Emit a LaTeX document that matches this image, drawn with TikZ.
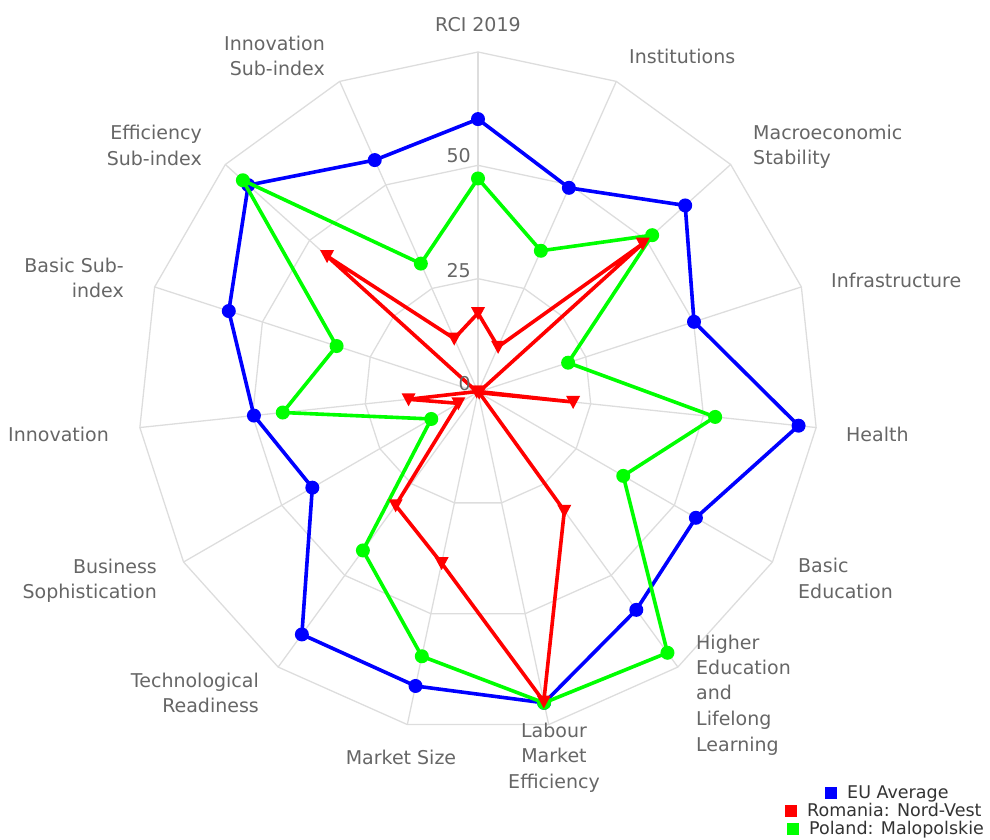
\documentclass[tikz,border=0pt]{standalone}
\usepackage{fontspec}
\setmainfont{DejaVu Sans}
\definecolor{gridc}{HTML}{DDDDDD}
\definecolor{labc}{HTML}{666666}
\definecolor{legc}{HTML}{333333}
\definecolor{sblue}{HTML}{0000FF}
\definecolor{sred}{HTML}{FF0000}
\definecolor{sgreen}{HTML}{00FF00}
\begin{document}
\begin{tikzpicture}[x=1pt,y=1pt,
  lab/.style={font=\fontsize{19}{25}\selectfont, text=labc, inner sep=0pt},
  leg/.style={font=\fontsize{17.5}{20}\selectfont, text=legc, inner sep=0pt},
  gridline/.style={draw=gridc, line width=1.3pt},
  series/.style={line width=3.6pt, line join=round, line cap=round},
  dotmark/.style={circle, inner sep=0pt, minimum size=14pt},
  sq/.style={inner sep=0pt, minimum size=12pt}]
\useasboundingbox (0,0) rectangle (990,839);
\begin{scope}[shift={(478,447)}]
  % grid rings
  \foreach \r in {113.333,226.667,340}{
    \draw[gridline] (90:\r) \foreach \i in {1,...,14}{ -- ({90-24*\i}:\r)} -- cycle;
  }
  % axes
  \foreach \i in {0,...,14}{ \draw[gridline] (0,0) -- ({90-24*\i}:340); }
  % data coordinates
  \foreach \v [count=\i from 0] in {60.2,49.3,61.5,50.1,71.1,55.5,59.4,70.1,66.3,66.1,42.2,49.7,57.8,68.2,56.0}
    {\coordinate (b\i) at ({90-24*\i}:{\v*4.5333});}
  \foreach \v [count=\i from 0] in {47.1,34.1,51.7,20.9,52.6,37.0,71.1,70.1,59.6,43.2,11.9,43.3,32.8,69.8,31.0}
    {\coordinate (g\i) at ({90-24*\i}:{\v*4.5333});}
  \foreach \v [count=\i from 0] in {17.4,10.9,48.9,0.3,21.1,0.3,32.4,69.8,38.6,30.9,5.0,15.4,0.3,44.8,12.9}
    {\coordinate (r\i) at ({90-24*\i}:{\v*4.5333});}
  % EU Average
  \draw[series, sblue] (b0) \foreach \i in {1,...,14}{ -- (b\i)} -- cycle;
  \foreach \i in {0,...,14}{ \node[dotmark, fill=sblue] (bm\i) at (b\i) {}; }
  % Poland
  \draw[series, sgreen] (g0) \foreach \i in {1,...,14}{ -- (g\i)} -- cycle;
  \foreach \i in {0,...,14}{ \node[dotmark, fill=sgreen] (gm\i) at (g\i) {}; }
  % Romania
  \draw[series, sred] (r0) \foreach \i in {1,...,14}{ -- (r\i)} -- cycle;
  \foreach \i in {0,...,14}{ \fill[sred] (r\i) ++(-7,6) -- ++(14,0) -- ++(-7,-13) -- cycle; }
\end{scope}
% tick labels
\node[lab, anchor=base east] (t50) at (471,676) {50};
\node[lab, anchor=base east] (t25) at (471,561) {25};
\node[lab, anchor=base east] (t0) at (471,448) {0};
% axis labels
\node[lab, anchor=base] (l0) at (478,807) {RCI 2019};
\node[lab, anchor=base west] (l1) at (629,775) {Institutions};
\node[lab, anchor=base west] (l2a) at (753,699) {Macroeconomic};
\node[lab, anchor=base west] (l2b) at (753,674) {Stability};
\node[lab, anchor=base west] (l3) at (831,551) {Infrastructure};
\node[lab, anchor=base west] (l4) at (846,398) {Health};
\node[lab, anchor=base west] (l5a) at (798,267) {Basic};
\node[lab, anchor=base west] (l5b) at (798,241) {Education};
\node[lab, anchor=base west] (l6a) at (696,190) {Higher};
\node[lab, anchor=base west] (l6b) at (696,165) {Education};
\node[lab, anchor=base west] (l6c) at (696,140) {and};
\node[lab, anchor=base west] (l6d) at (696,114) {Lifelong};
\node[lab, anchor=base west] (l6e) at (696,88) {Learning};
\node[lab, anchor=base] (l7a) at (554,102) {Labour};
\node[lab, anchor=base] (l7b) at (554,77) {Market};
\node[lab, anchor=base] (l7c) at (554,51) {Efficiency};
\node[lab, anchor=base] (l8) at (401,75) {Market Size};
\node[lab, anchor=base east] (l9a) at (259,152) {Technological};
\node[lab, anchor=base east] (l9b) at (259,127) {Readiness};
\node[lab, anchor=base east] (l10a) at (157,266) {Business};
\node[lab, anchor=base east] (l10b) at (157,241) {Sophistication};
\node[lab, anchor=base east] (l11) at (109,398) {Innovation};
\node[lab, anchor=base east] (l12a) at (124,566) {Basic Sub-};
\node[lab, anchor=base east] (l12b) at (124,541) {index};
\node[lab, anchor=base east] (l13a) at (202,699) {Efficiency};
\node[lab, anchor=base east] (l13b) at (202,673) {Sub-index};
\node[lab, anchor=base east] (l14a) at (325,788) {Innovation};
\node[lab, anchor=base east] (l14b) at (325,763) {Sub-index};
% legend
\node[sq, fill=sblue] (kb) at (831,46) {};
\node[leg, anchor=base west] (kbt) at (847,41) {EU Average};
\node[sq, fill=sred] (kr) at (791,28.5) {};
\node[leg, anchor=base west] (krt) at (807,23) {Romania: Nord-Vest};
\node[sq, fill=sgreen] (kg) at (793,10.5) {};
\node[leg, anchor=base west] (kgt) at (809,5) {Poland: Malopolskie};
\end{tikzpicture}
\end{document}
